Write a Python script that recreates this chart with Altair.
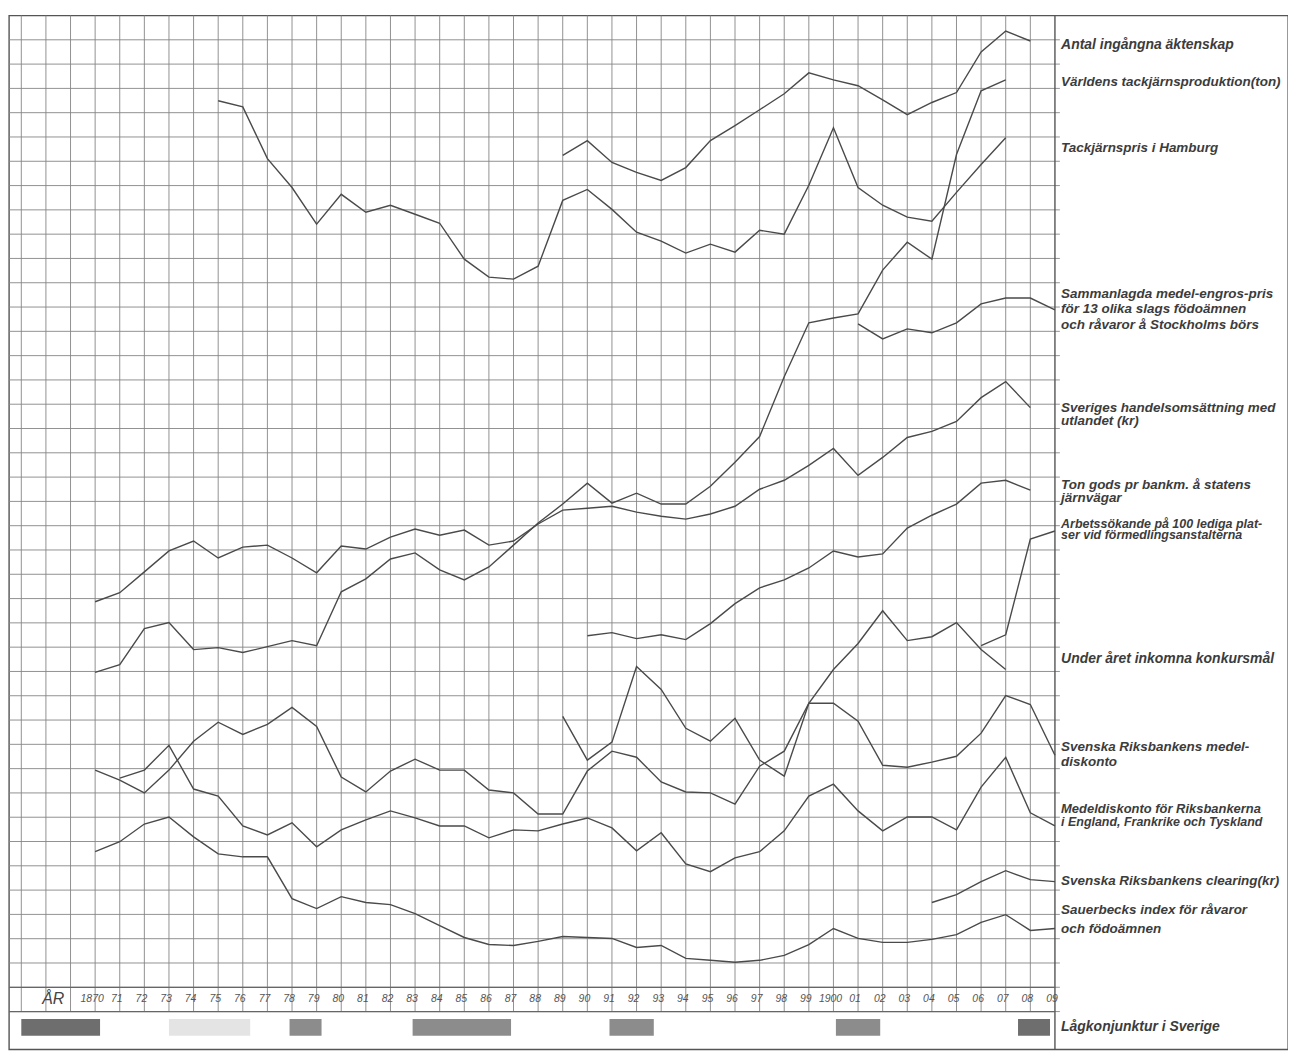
import altair as alt
import pandas as pd

# ---------------- data (in grid units) ----------------
marriages_1889 = [34.24, 34.85, 33.95, 33.54, 33.21, 33.74, 34.85, 35.47, 36.12, 36.78,
                  37.64, 37.35, 37.11, 36.53, 35.92, 36.42, 36.83, 38.50, 39.36, 38.95]
pigiron_prod_1870 = [12.96, 13.28, 14.76, 15.01, 13.90, 13.98, 13.78, 14.02, 14.27, 14.06,
                     16.28, 16.81, 17.63, 17.88, 17.18, 16.77, 17.30, 18.20, 19.11, 19.89,
                     20.75, 19.93, 20.34, 19.89, 19.89, 20.62, 21.61, 22.67, 25.13, 27.35,
                     27.55, 27.72, 29.52, 30.67, 29.97, 34.28, 36.90, 37.35]
pigiron_price_1875 = [36.49, 36.24, 34.11, 32.92, 31.41, 32.64, 31.90, 32.19, 31.82, 31.45,
                      29.97, 29.23, 29.15, 29.68, 32.39, 32.84, 32.02, 31.08, 30.71, 30.22,
                      30.59, 30.26, 31.16, 31.00, 33.01, 35.38, 32.92, 32.19, 31.70, 31.53,
                      32.72, 33.87, 34.97]
stockholm_prices_1901 = [27.31, 26.69, 27.10, 26.94, 27.35, 28.13, 28.37, 28.37, 27.88]
trade_1870 = [15.87, 16.24, 17.10, 17.96, 18.37, 17.67, 18.12, 18.20, 17.67, 17.06,
              18.16, 18.04, 18.53, 18.86, 18.61, 18.82, 18.20, 18.37, 19.07, 19.64,
              19.72, 19.80, 19.56, 19.39, 19.27, 19.48, 19.80, 20.50, 20.87, 21.48,
              22.18, 21.07, 21.81, 22.63, 22.88, 23.29, 24.27, 24.93, 23.86]
freight_1890 = [14.47, 14.60, 14.35, 14.51, 14.31, 14.97, 15.79, 16.44, 16.77, 17.26,
                17.96, 17.71, 17.84, 18.90, 19.43, 19.89, 20.75, 20.87, 20.46]
jobseekers_1906 = [14.06, 14.51, 18.45, 18.78]
bankruptcies_1889 = [11.15, 9.35, 10.09, 13.20, 12.26, 10.66, 10.13, 11.07, 9.35, 8.69,
                     11.69, 13.08, 14.15, 15.50, 14.27, 14.43, 15.01, 13.90, 13.08]
riksbank_discount_1870 = [8.94, 8.53, 8.00, 8.94, 10.13, 10.91, 10.41, 10.82, 11.52, 10.74,
                          8.65, 8.04, 8.90, 9.39, 8.94, 8.94, 8.12, 8.00, 7.13, 7.13,
                          8.90, 9.72, 9.47, 8.45, 8.04, 8.00, 7.54, 9.10, 9.72, 11.69,
                          11.69, 10.95, 9.14, 9.06, 9.27, 9.51, 10.46, 12.01, 11.64, 9.55]
foreign_discount_1871 = [8.61, 8.94, 9.96, 8.16, 7.87, 6.64, 6.27, 6.77, 5.78, 6.48,
                         6.89, 7.26, 6.97, 6.64, 6.64, 6.15, 6.48, 6.44, 6.72, 6.97,
                         6.56, 5.62, 6.36, 5.08, 4.76, 5.33, 5.58, 6.44, 7.87, 8.36,
                         7.26, 6.44, 7.01, 7.01, 6.48, 8.24, 9.47, 7.18, 6.64]
clearing_1904 = [3.49, 3.81, 4.35, 4.80, 4.43, 4.35]
sauerbeck_1870 = [5.58, 5.99, 6.72, 7.01, 6.19, 5.49, 5.37, 5.37, 3.65, 3.24,
                  3.73, 3.49, 3.40, 3.03, 2.54, 2.05, 1.76, 1.72, 1.89, 2.09,
                  2.05, 2.01, 1.64, 1.72, 1.19, 1.11, 1.03, 1.11, 1.31, 1.76,
                  2.42, 2.01, 1.85, 1.85, 1.97, 2.17, 2.67, 2.99, 2.34, 2.42]

series_table = [
    ("marriages", 1889, marriages_1889),
    ("pigiron_prod", 1870, pigiron_prod_1870),
    ("pigiron_price", 1875, pigiron_price_1875),
    ("stockholm", 1901, stockholm_prices_1901),
    ("trade", 1870, trade_1870),
    ("freight", 1890, freight_1890),
    ("jobseekers", 1906, jobseekers_1906),
    ("bankruptcies", 1889, bankruptcies_1889),
    ("riksbank", 1870, riksbank_discount_1870),
    ("foreign", 1871, foreign_discount_1871),
    ("clearing", 1904, clearing_1904),
    ("sauerbeck", 1870, sauerbeck_1870),
]

# right-hand legend texts and their vertical position (grid units)
label_texts = [
    "Antal ingångna äktenskap",
    "Världens tackjärnsproduktion(ton)",
    "Tackjärnspris i Hamburg",
    "Sammanlagda medel-engros-pris",
    "för 13 olika slags födoämnen",
    "och råvaror å Stockholms börs",
    "Sveriges handelsomsättning med",
    "utlandet (kr)",
    "Ton gods pr bankm. å statens",
    "järnvägar",
    "Arbetssökande på 100 lediga plat-",
    "ser vid förmedlingsanstalterna",
    "Under året inkomna konkursmål",
    "Svenska Riksbankens medel-",
    "diskonto",
    "Medeldiskonto för Riksbankerna",
    "i England, Frankrike och Tyskland",
    "Svenska Riksbankens clearing(kr)",
    "Sauerbecks index för råvaror",
    "och födoämnen",
]
label_levels = [38.80, 37.27, 34.56, 28.55, 27.93, 27.28, 23.83, 23.29, 20.69, 20.14,
                19.08, 18.60, 13.52, 9.89, 9.28, 7.34, 6.79, 4.36, 3.20, 2.38]
label_sizes = [14, 13.5, 13.5, 13.5, 13.5, 13.5, 13.5, 13.5, 13.5, 13.5,
               12.5, 12.5, 14, 13.5, 13.5, 13, 12.5, 13.5, 13.5, 13.5]

# year axis labels
tick_years = list(range(1870, 1910))
tick_labels = ["1870"] + [f"{y % 100:02d}" for y in range(1871, 1900)] + ["1900"] + \
              [f"{y % 100:02d}" for y in range(1901, 1910)]

# periods of low business activity in Sweden
low_start = [1867.0, 1873.0, 1877.9, 1882.9, 1890.9, 1900.1, 1907.5]
low_end = [1870.2, 1876.3, 1879.2, 1886.9, 1892.7, 1901.9, 1908.8]
low_tone = ["dark", "faint", "mid", "mid", "mid", "mid", "dark"]

# ---------------- geometry / scales ----------------
X_DOMAIN = [1866.5, 1918.47]
Y_DOMAIN = [-2.56, 40]
xs = alt.Scale(domain=X_DOMAIN, nice=False, zero=False)
ys = alt.Scale(domain=Y_DOMAIN, nice=False, zero=False)

GRID = "#858585"
INK = "#4a4a4a"
FONT = "Liberation Sans"

# ---------------- build tables ----------------
rows = []
for name, start, vals in series_table:
    for i, v in enumerate(vals):
        rows.append({"series": name, "year": start + i, "value": v})
lines_df = pd.DataFrame(rows)

vgrid = pd.DataFrame({"x": list(range(1867, 1909)), "y": -1, "y2": 40})
hgrid = pd.DataFrame({"y": list(range(-1, 40)), "x": X_DOMAIN[0], "x2": 1909.2})
frame_v = pd.DataFrame({"x": [1909], "y": [Y_DOMAIN[0]], "y2": [40]})
frame_h = pd.DataFrame({"y": [0, -1], "x": X_DOMAIN[0], "x2": 1909})

labels_df = pd.DataFrame({"text": label_texts, "y": label_levels, "x": 1909.25,
                          "size": label_sizes})
ticks_df = pd.DataFrame({"year": [y - 0.12 for y in tick_years], "text": tick_labels, "y": -0.5})
low_df = pd.DataFrame({"x": low_start, "x2": low_end, "tone": low_tone, "y": -1.31, "y2": -2.0})

# ---------------- layers ----------------
vg = alt.Chart(vgrid).mark_rule(color=GRID, strokeWidth=0.9).encode(
    x=alt.X("x:Q", scale=xs, axis=None), y=alt.Y("y:Q", scale=ys, axis=None), y2="y2:Q")
hg = alt.Chart(hgrid).mark_rule(color=GRID, strokeWidth=0.9).encode(
    y=alt.Y("y:Q", scale=ys, axis=None), x=alt.X("x:Q", scale=xs, axis=None), x2="x2:Q")
fv = alt.Chart(frame_v).mark_rule(color="#555555", strokeWidth=1.4).encode(
    x=alt.X("x:Q", scale=xs, axis=None), y=alt.Y("y:Q", scale=ys, axis=None), y2="y2:Q")
fh = alt.Chart(frame_h).mark_rule(color="#666666", strokeWidth=1.3).encode(
    y=alt.Y("y:Q", scale=ys, axis=None), x=alt.X("x:Q", scale=xs, axis=None), x2="x2:Q")

lines = alt.Chart(lines_df).mark_line(color=INK, strokeWidth=1.4, strokeJoin="miter").encode(
    x=alt.X("year:Q", scale=xs, axis=None),
    y=alt.Y("value:Q", scale=ys, axis=None),
    detail="series:N",
)

labels = alt.Chart(labels_df).mark_text(
    align="left", baseline="middle", font=FONT, fontStyle="italic",
    fontWeight="bold", color="#3c3c3c").encode(
    x=alt.X("x:Q", scale=xs, axis=None), y=alt.Y("y:Q", scale=ys, axis=None), text="text:N",
    size=alt.Size("size:Q", scale=None, legend=None))

ticks = alt.Chart(ticks_df).mark_text(
    align="center", baseline="middle", font=FONT, fontSize=10.5, fontStyle="italic",
    color="#555555").encode(
    x=alt.X("year:Q", scale=xs, axis=None), y=alt.Y("y:Q", scale=ys, axis=None), text="text:N")

ar = alt.Chart(pd.DataFrame({"x": [1868.3], "y": [-0.5], "t": ["ÅR"]})).mark_text(
    align="center", baseline="middle", font=FONT, fontSize=16, fontStyle="italic",
    color="#444444").encode(
    x=alt.X("x:Q", scale=xs, axis=None), y=alt.Y("y:Q", scale=ys, axis=None), text="t:N")

bars = alt.Chart(low_df).mark_rect().encode(
    x=alt.X("x:Q", scale=xs, axis=None), x2="x2:Q",
    y=alt.Y("y:Q", scale=ys, axis=None), y2="y2:Q",
    color=alt.Color("tone:N", scale=alt.Scale(domain=["dark", "mid", "faint"],
                                              range=["#6e6e6e", "#8c8c8c", "#e4e4e4"]),
                    legend=None),
)

low_label = alt.Chart(pd.DataFrame({"x": [1909.25], "y": [-1.65],
                                    "t": ["Lågkonjunktur i Sverige"]})).mark_text(
    align="left", baseline="middle", font=FONT, fontSize=14, fontStyle="italic",
    fontWeight="bold", color="#3c3c3c").encode(
    x=alt.X("x:Q", scale=xs, axis=None), y=alt.Y("y:Q", scale=ys, axis=None), text="t:N")

chart = alt.layer(vg, hg, fv, fh, bars, lines, labels, ticks, ar, low_label).properties(
    width=1284, height=1038,
    padding={"left": 0, "top": 4.5, "right": 0, "bottom": 0},
    background="white",
).configure_view(stroke="#555555", strokeWidth=1.4)

chart.save("out.html", embed_options={"renderer": "svg", "actions": False})
